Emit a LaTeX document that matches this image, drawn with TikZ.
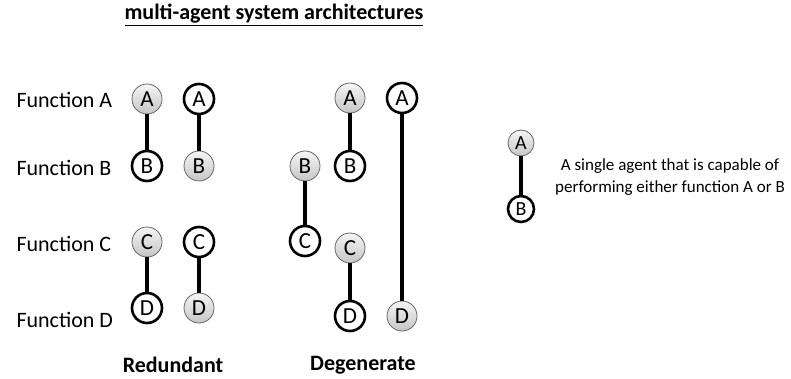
\documentclass[tikz,border=0pt]{standalone}
\usepackage{fontspec}
\setmainfont{Carlito}
\usepackage{tikz}

\begin{document}
\begin{tikzpicture}[x=1pt,y=-1pt,
	agent/.style={circle, minimum size=30pt, inner sep=0pt,
	  font=\fontsize{23}{26}\selectfont},
	busy/.style={agent, draw=black, line width=2.6pt, fill=white},
	idle/.style={agent, draw=gray!80!black, line width=0.8pt,
	  top color=gray!8, bottom color=gray!45},
	small/.style={minimum size=26pt, font=\fontsize{20}{23}\selectfont},
	link/.style={line width=4pt},
	label/.style={anchor=base west, font=\fontsize{22}{26}\selectfont},
	heading/.style={font=\bfseries\fontsize{22}{26}\selectfont}]
	\useasboundingbox (0,0) rectangle (791,379);

	\node [heading] (title) at (274,15) {\underline{multi-agent system architectures}};

	\node [label] (fa) at (13,108) {Function A};
	\node [label] (fb) at (13,176) {Function B};
	\node [label] (fc) at (13,251) {Function C};
	\node [label] (fd) at (13,327) {Function D};

	% redundant
	\node [idle] (1a) at (147,99) {A};
	\node [busy] (1b) at (147,166) {B};
	\node [busy] (2a) at (199,99) {A};
	\node [idle] (2b) at (199,166) {B};
	\node [idle] (1c) at (147,242) {C};
	\node [busy] (1d) at (147,308) {D};
	\node [busy] (2c) at (199,242) {C};
	\node [idle] (2d) at (199,308) {D};
        \draw [link] (1a) to (1b);
        \draw [link] (2a) to (2b);
        \draw [link] (1c) to (1d);
        \draw [link] (2c) to (2d);

	% degenerate
	\node [idle] (3b) at (305,166) {B};
	\node [busy] (3c) at (305,241) {C};
	\node [idle] (4a) at (350,98) {A};
	\node [busy] (4b) at (350,166) {B};
	\node [idle] (4c) at (350,248) {C};
	\node [busy] (4d) at (350,316) {D};
	\node [busy] (5a) at (402,98) {A};
	\node [idle] (5d) at (402,316) {D};
        \draw [link] (3b) to (3c);
        \draw [link] (4a) to (4b);
        \draw [link] (4c) to (4d);
        \draw [link] (5a) to (5d);

	\node [heading] (red) at (173,365) {Redundant};
	\node [heading] (deg) at (363,365) {Degenerate};

	% legend
	\node [idle, small] (6a) at (521,143) {A};
	\node [busy, small] (6b) at (521,209) {B};
        \draw [link] (6a) to (6b);
	\node [align=center, font=\fontsize{17}{22}\selectfont] (note) at (670,177)
	  {A single agent that is capable of\\performing either function A or B};
\end{tikzpicture}
\end{document}
